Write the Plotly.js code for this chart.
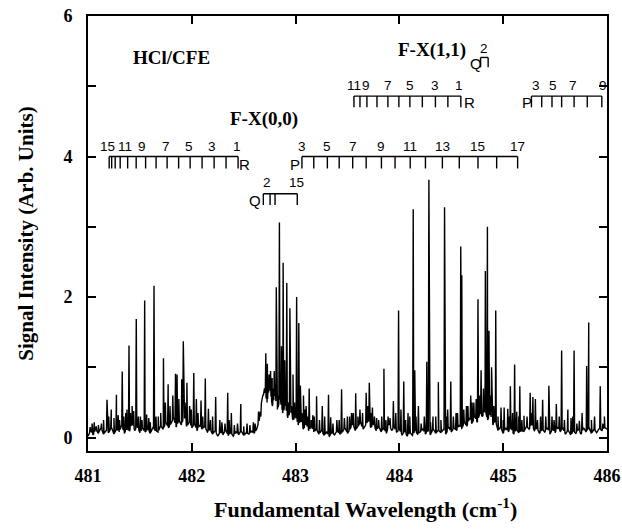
<!DOCTYPE html>
<html><head><meta charset="utf-8">
<script src="https://cdn.plot.ly/plotly-3.0.1.min.js"></script>
<style>html,body{margin:0;padding:0;background:#fff}</style>
</head><body><div id="chart" style="width:622px;height:532px"></div>
<script>
// ---------- DATA ----------
const xTickVals = [481, 482, 483, 484, 485, 486];
const xTickText = ['481', '482', '483', '484', '485', '486'];
const yTickVals = [0, 1, 2, 3, 4, 5, 6];
const yTickText = ['0', '', '2', '', '4', '', '6'];

// baseline (noise floor) sampled every 0.025 cm-1 from 481.000
const baseStart = 481.0, baseStep = 0.025;
const baseline = [
  0.02,0.10,0.04,0.12,0.06,0.14,0.05,0.10,
  0.07,0.15,0.05,0.12,0.08,0.18,0.06,0.13,
  0.09,0.22,0.10,0.16,0.07,0.14,0.08,0.12,
  0.06,0.14,0.10,0.08,0.17,0.12,0.22,0.14,
  0.20,0.28,0.15,0.25,0.18,0.30,0.16,0.22,
  0.14,0.20,0.10,0.18,0.12,0.16,0.08,0.12,
  0.05,0.10,0.02,0.08,0.04,0.11,0.03,0.07,
  0.02,0.08,0.04,0.10,0.03,0.07,0.05,0.09,
  0.06,0.12,0.25,0.55,0.70,0.50,0.75,0.45,
  0.60,0.40,0.55,0.35,0.45,0.28,0.38,0.25,
  0.30,0.18,0.25,0.12,0.20,0.10,0.16,0.08,
  0.12,0.05,0.10,0.03,0.08,0.02,0.07,0.04,
  0.10,0.05,0.08,0.14,0.06,0.12,0.20,0.10,
  0.16,0.22,0.12,0.18,0.25,0.14,0.20,0.10,
  0.16,0.08,0.14,0.06,0.20,0.10,0.15,0.08,
  0.12,0.04,0.09,0.02,0.08,0.03,0.10,0.05,
  0.08,0.12,0.05,0.10,0.04,0.13,0.06,0.11,
  0.07,0.12,0.05,0.15,0.08,0.14,0.10,0.18,
  0.12,0.22,0.16,0.28,0.20,0.30,0.22,0.35,
  0.30,0.40,0.25,0.35,0.18,0.24,0.10,0.15,
  0.06,0.14,0.08,0.15,0.05,0.12,0.07,0.10,
  0.09,0.16,0.12,0.20,0.10,0.14,0.06,0.12,
  0.08,0.14,0.05,0.12,0.07,0.15,0.09,0.13,
  0.05,0.11,0.04,0.09,0.06,0.12,0.05,0.14,
  0.08,0.15,0.06,0.12,0.07,0.13,0.10,0.15,
  0.12
];

// strong lines: positions (cm-1) and peak heights
const peakX = [481.06,481.10,481.183,481.224,481.274,481.304,481.33,481.364,481.395,481.425,
  481.465,481.505,481.546,481.586,481.636,481.677,481.727,481.772,481.817,481.843,
  481.858,481.903,481.918,481.953,481.979,482.019,482.044,482.089,482.13,482.16,
  482.23,482.27,482.346,482.381,482.472,482.532,482.593,482.643,482.713,482.728,
  482.744,482.759,482.774,482.794,482.814,482.844,482.864,482.88,482.895,482.915,
  482.945,482.975,483.010,483.031,483.046,483.076,483.101,483.131,483.166,483.202,
  483.257,483.317,483.338,483.398,483.443,483.499,483.539,483.579,483.62,483.68,
  483.71,483.74,483.781,483.851,483.891,483.942,483.992,484.042,484.083,484.133,
  484.148,484.183,484.264,484.284,484.324,484.375,484.435,484.465,484.495,484.546,
  484.591,484.601,484.646,484.687,484.717,484.757,484.787,484.828,484.848,484.863,
  484.888,484.928,484.979,485.009,485.044,485.069,485.11,485.13,485.16,485.20,
  485.26,485.286,485.31,485.38,485.44,485.47,485.512,485.563,485.623,485.653,
  485.683,485.734,485.804,485.824,485.935,485.975];
const peakY = [0.22,0.18,0.54,0.40,0.61,0.25,0.94,0.35,1.31,0.45,
  1.69,0.30,1.95,0.28,2.16,0.30,1.13,0.76,0.60,0.91,
  0.90,0.83,1.37,0.78,0.45,0.92,0.55,0.53,0.84,0.41,
  0.58,0.25,0.64,0.35,0.48,0.20,0.22,0.37,1.20,1.05,
  0.90,0.95,0.85,0.95,2.14,3.06,1.30,2.49,1.10,2.20,
  1.84,0.90,2.00,1.63,0.74,0.60,0.45,0.70,0.32,0.59,
  0.45,0.61,0.29,0.25,0.69,0.30,0.35,0.63,0.40,0.64,
  0.78,0.43,0.28,0.98,0.30,0.52,1.81,0.80,0.35,3.25,
  0.96,0.45,1.08,3.67,0.30,0.79,3.28,0.40,0.80,0.35,
  2.72,2.31,0.45,0.60,0.50,1.97,0.96,2.37,3.00,1.52,
  1.00,1.81,0.43,0.43,0.41,0.73,1.04,0.37,0.73,0.31,
  0.64,0.58,0.55,0.54,0.74,0.30,0.48,1.24,0.40,0.28,
  1.24,0.24,1.02,1.64,0.73,0.30];

// weak lines / noise spikes: positions and heights
const weakX = [481.02,481.04,481.08,481.13,481.15,481.20,481.25,481.29,481.345,481.375,
  481.41,481.44,481.485,481.52,481.565,481.60,481.655,481.70,481.745,481.79,
  481.875,481.935,481.995,482.06,482.105,482.18,482.20,482.29,482.32,482.36,
  482.41,482.44,482.50,482.56,482.61,482.665,482.69,482.72,482.735,482.752,
  482.768,482.785,482.805,482.825,482.855,482.872,482.905,482.93,482.96,482.99,
  483.02,483.06,483.09,483.115,483.15,483.18,483.23,483.28,483.36,483.42,
  483.47,483.52,483.555,483.60,483.645,483.695,483.725,483.76,483.80,483.83,
  483.87,483.91,483.965,484.015,484.06,484.10,484.16,484.21,484.24,484.30,
  484.35,484.40,484.45,484.52,484.56,484.62,484.66,484.70,484.74,484.775,
  484.81,484.875,484.91,484.95,485.00,485.06,485.09,485.15,485.18,485.23,
  485.27,485.33,485.36,485.41,485.49,485.54,485.59,485.67,485.71,485.76,
  485.85,485.88,485.96];
const weakY = [0.15,0.20,0.16,0.20,0.25,0.30,0.28,0.32,0.30,0.40,
  0.35,0.38,0.30,0.25,0.33,0.22,0.30,0.35,0.50,0.45,
  0.55,0.50,0.40,0.35,0.30,0.25,0.30,0.22,0.20,0.25,
  0.18,0.20,0.16,0.18,0.20,0.30,0.60,0.80,0.70,0.75,
  0.65,0.70,0.75,0.60,0.55,0.50,0.60,0.50,0.45,0.50,
  0.45,0.35,0.40,0.30,0.25,0.30,0.25,0.30,0.20,0.25,
  0.28,0.30,0.35,0.30,0.35,0.45,0.35,0.30,0.25,0.30,
  0.25,0.28,0.35,0.40,0.25,0.30,0.30,0.20,0.30,0.22,
  0.30,0.25,0.30,0.30,0.35,0.40,0.45,0.50,0.55,0.60,
  0.70,0.60,0.45,0.30,0.25,0.30,0.35,0.30,0.25,0.30,
  0.35,0.25,0.30,0.30,0.25,0.30,0.25,0.30,0.20,0.35,
  0.25,0.30,0.20];

// rotational assignment combs (line positions, cm-1)
const r00Ticks = [482.446,482.330,482.215,482.099,481.984,481.873,481.762,481.656,481.555,481.464,481.382,481.310,481.262,481.228,481.204];
const r00Labels = ['15','11','9','7','5','3','1'];
const r00LabelX = [481.19,481.358,481.522,481.753,481.975,482.195,482.436];

const p00Ticks = [483.061,483.175,483.306,483.42,483.55,483.68,483.827,483.958,484.104,484.251,484.414,484.577,484.757,484.937,485.139];
const p00Labels = ['3','5','7','9','11','13','15','17'];
const p00LabelX = [483.061,483.306,483.55,483.827,484.104,484.414,484.757,485.139];

const q00Ticks = [482.689,482.754,482.802,483.016];
const q00Labels = ['2','15'];
const q00LabelX = [482.722,483.01];

const r11Ticks = [484.592,484.467,484.347,484.221,484.101,483.995,483.889,483.784,483.687,483.62,483.562];
const r11Labels = ['11','9','7','5','3','1'];
const r11LabelX = [483.565,483.675,483.889,484.101,484.347,484.578];

const p11Ticks = [485.272,485.371,485.47,485.563,485.683,485.81,485.95];
const p11Labels = ['3','5','7','9'];
const p11LabelX = [485.318,485.477,485.67,485.96];

const q11Ticks = [484.782,484.855];
const q11Labels = ['2'];
const q11LabelX = [484.815];

// ---------- BUILD ----------
const hw = 0.005;
function baseAt(x){
  const f = (x - baseStart) / baseStep;
  const i = Math.max(0, Math.min(baseline.length - 2, Math.floor(f)));
  const t = f - i;
  return baseline[i] * (1 - t) + baseline[i + 1] * t;
}
const pts = [];
baseline.forEach((v, i) => pts.push([baseStart + i * baseStep, v]));
function addLines(xs, ys){
  xs.forEach((x, i) => {
    pts.push([x - hw, baseAt(x - hw)]);
    pts.push([x, ys[i]]);
    pts.push([x + hw, baseAt(x + hw)]);
  });
}
addLines(peakX, peakY);
addLines(weakX, weakY);
pts.sort((a, b) => a[0] - b[0]);

const trace = {
  x: pts.map(p => p[0]), y: pts.map(p => p[1]),
  type: 'scatter', mode: 'lines',
  line: {color: '#000', width: 1.4},
  hoverinfo: 'skip'
};

const shapes = [];
const annotations = [];
const serifB = {family: 'Liberation Serif, Times New Roman, serif', weight: 'bold', color: '#000'};
const sans = {family: 'Liberation Sans, Arial, sans-serif', color: '#000'};

function comb(ticks, lineY, tickBot, labels, labelX, labelY, letter, letterX, letterY){
  const lo = Math.min(...ticks), hi = Math.max(...ticks);
  shapes.push({type: 'line', xref: 'x', yref: 'y', x0: lo, x1: hi, y0: lineY, y1: lineY, line: {color: '#000', width: 1.4}});
  ticks.forEach(t => shapes.push({type: 'line', xref: 'x', yref: 'y', x0: t, x1: t, y0: lineY, y1: tickBot, line: {color: '#000', width: 1.4}}));
  labels.forEach((s, i) => annotations.push({x: labelX[i], y: labelY, xref: 'x', yref: 'y', text: s, showarrow: false, xanchor: 'center', yanchor: 'middle', font: Object.assign({size: 13.5}, sans)}));
  annotations.push({x: letterX, y: letterY, xref: 'x', yref: 'y', text: letter, showarrow: false, xanchor: 'center', yanchor: 'middle', font: Object.assign({size: 15}, sans)});
}
comb(r00Ticks, 4.0, 3.83, r00Labels, r00LabelX, 4.14, 'R', 482.505, 3.89);
comb(p00Ticks, 4.0, 3.83, p00Labels, p00LabelX, 4.14, 'P', 482.995, 3.89);
comb(q00Ticks, 3.47, 3.31, q00Labels, q00LabelX, 3.63, 'Q', 482.607, 3.37);
comb(r11Ticks, 4.86, 4.70, r11Labels, r11LabelX, 5.01, 'R', 484.68, 4.77);
comb(p11Ticks, 4.86, 4.70, p11Labels, p11LabelX, 5.01, 'P', 485.225, 4.77);
comb(q11Ticks, 5.41, 5.27, q11Labels, q11LabelX, 5.54, 'Q', 484.735, 5.32);

annotations.push({x: 481.80, y: 5.41, xref: 'x', yref: 'y', text: 'HCl/CFE', showarrow: false, xanchor: 'center', yanchor: 'middle', font: Object.assign({size: 19}, serifB)});
annotations.push({x: 484.31, y: 5.52, xref: 'x', yref: 'y', text: 'F-X(1,1)', showarrow: false, xanchor: 'center', yanchor: 'middle', font: Object.assign({size: 19}, serifB)});
annotations.push({x: 482.696, y: 4.54, xref: 'x', yref: 'y', text: 'F-X(0,0)', showarrow: false, xanchor: 'center', yanchor: 'middle', font: Object.assign({size: 19}, serifB)});
annotations.push({x: 0.5356, y: -0.13, xref: 'paper', yref: 'paper', text: 'Fundamental Wavelength (cm<sup>-1</sup>)', showarrow: false, xanchor: 'center', yanchor: 'middle', font: Object.assign({size: 22}, serifB)});

const axisCommon = {
  ticks: 'inside', ticklen: 8, tickwidth: 2, tickcolor: '#000',
  showline: true, linewidth: 2, linecolor: '#000', mirror: 'ticks',
  showgrid: false, zeroline: false,
  tickfont: Object.assign({size: 18}, serifB)
};
const layout = {
  width: 622, height: 532,
  margin: {l: 88, r: 15, t: 16, b: 81},
  paper_bgcolor: '#fff', plot_bgcolor: '#fff',
  showlegend: false,
  xaxis: Object.assign({}, axisCommon, {range: [481, 486], tickmode: 'array', tickvals: xTickVals, ticktext: xTickText, ticklabelstandoff: 7}),
  yaxis: Object.assign({}, axisCommon, {range: [-0.19, 6.0], tickmode: 'array', tickvals: yTickVals, ticktext: yTickText, ticklabelstandoff: 10,
    title: {text: 'Signal Intensity (Arb. Units)', font: Object.assign({size: 21}, serifB), standoff: 24}}),
  shapes: shapes,
  annotations: annotations
};
Plotly.newPlot('chart', [trace], layout, {staticPlot: true, displayModeBar: false});
</script>
</body></html>
